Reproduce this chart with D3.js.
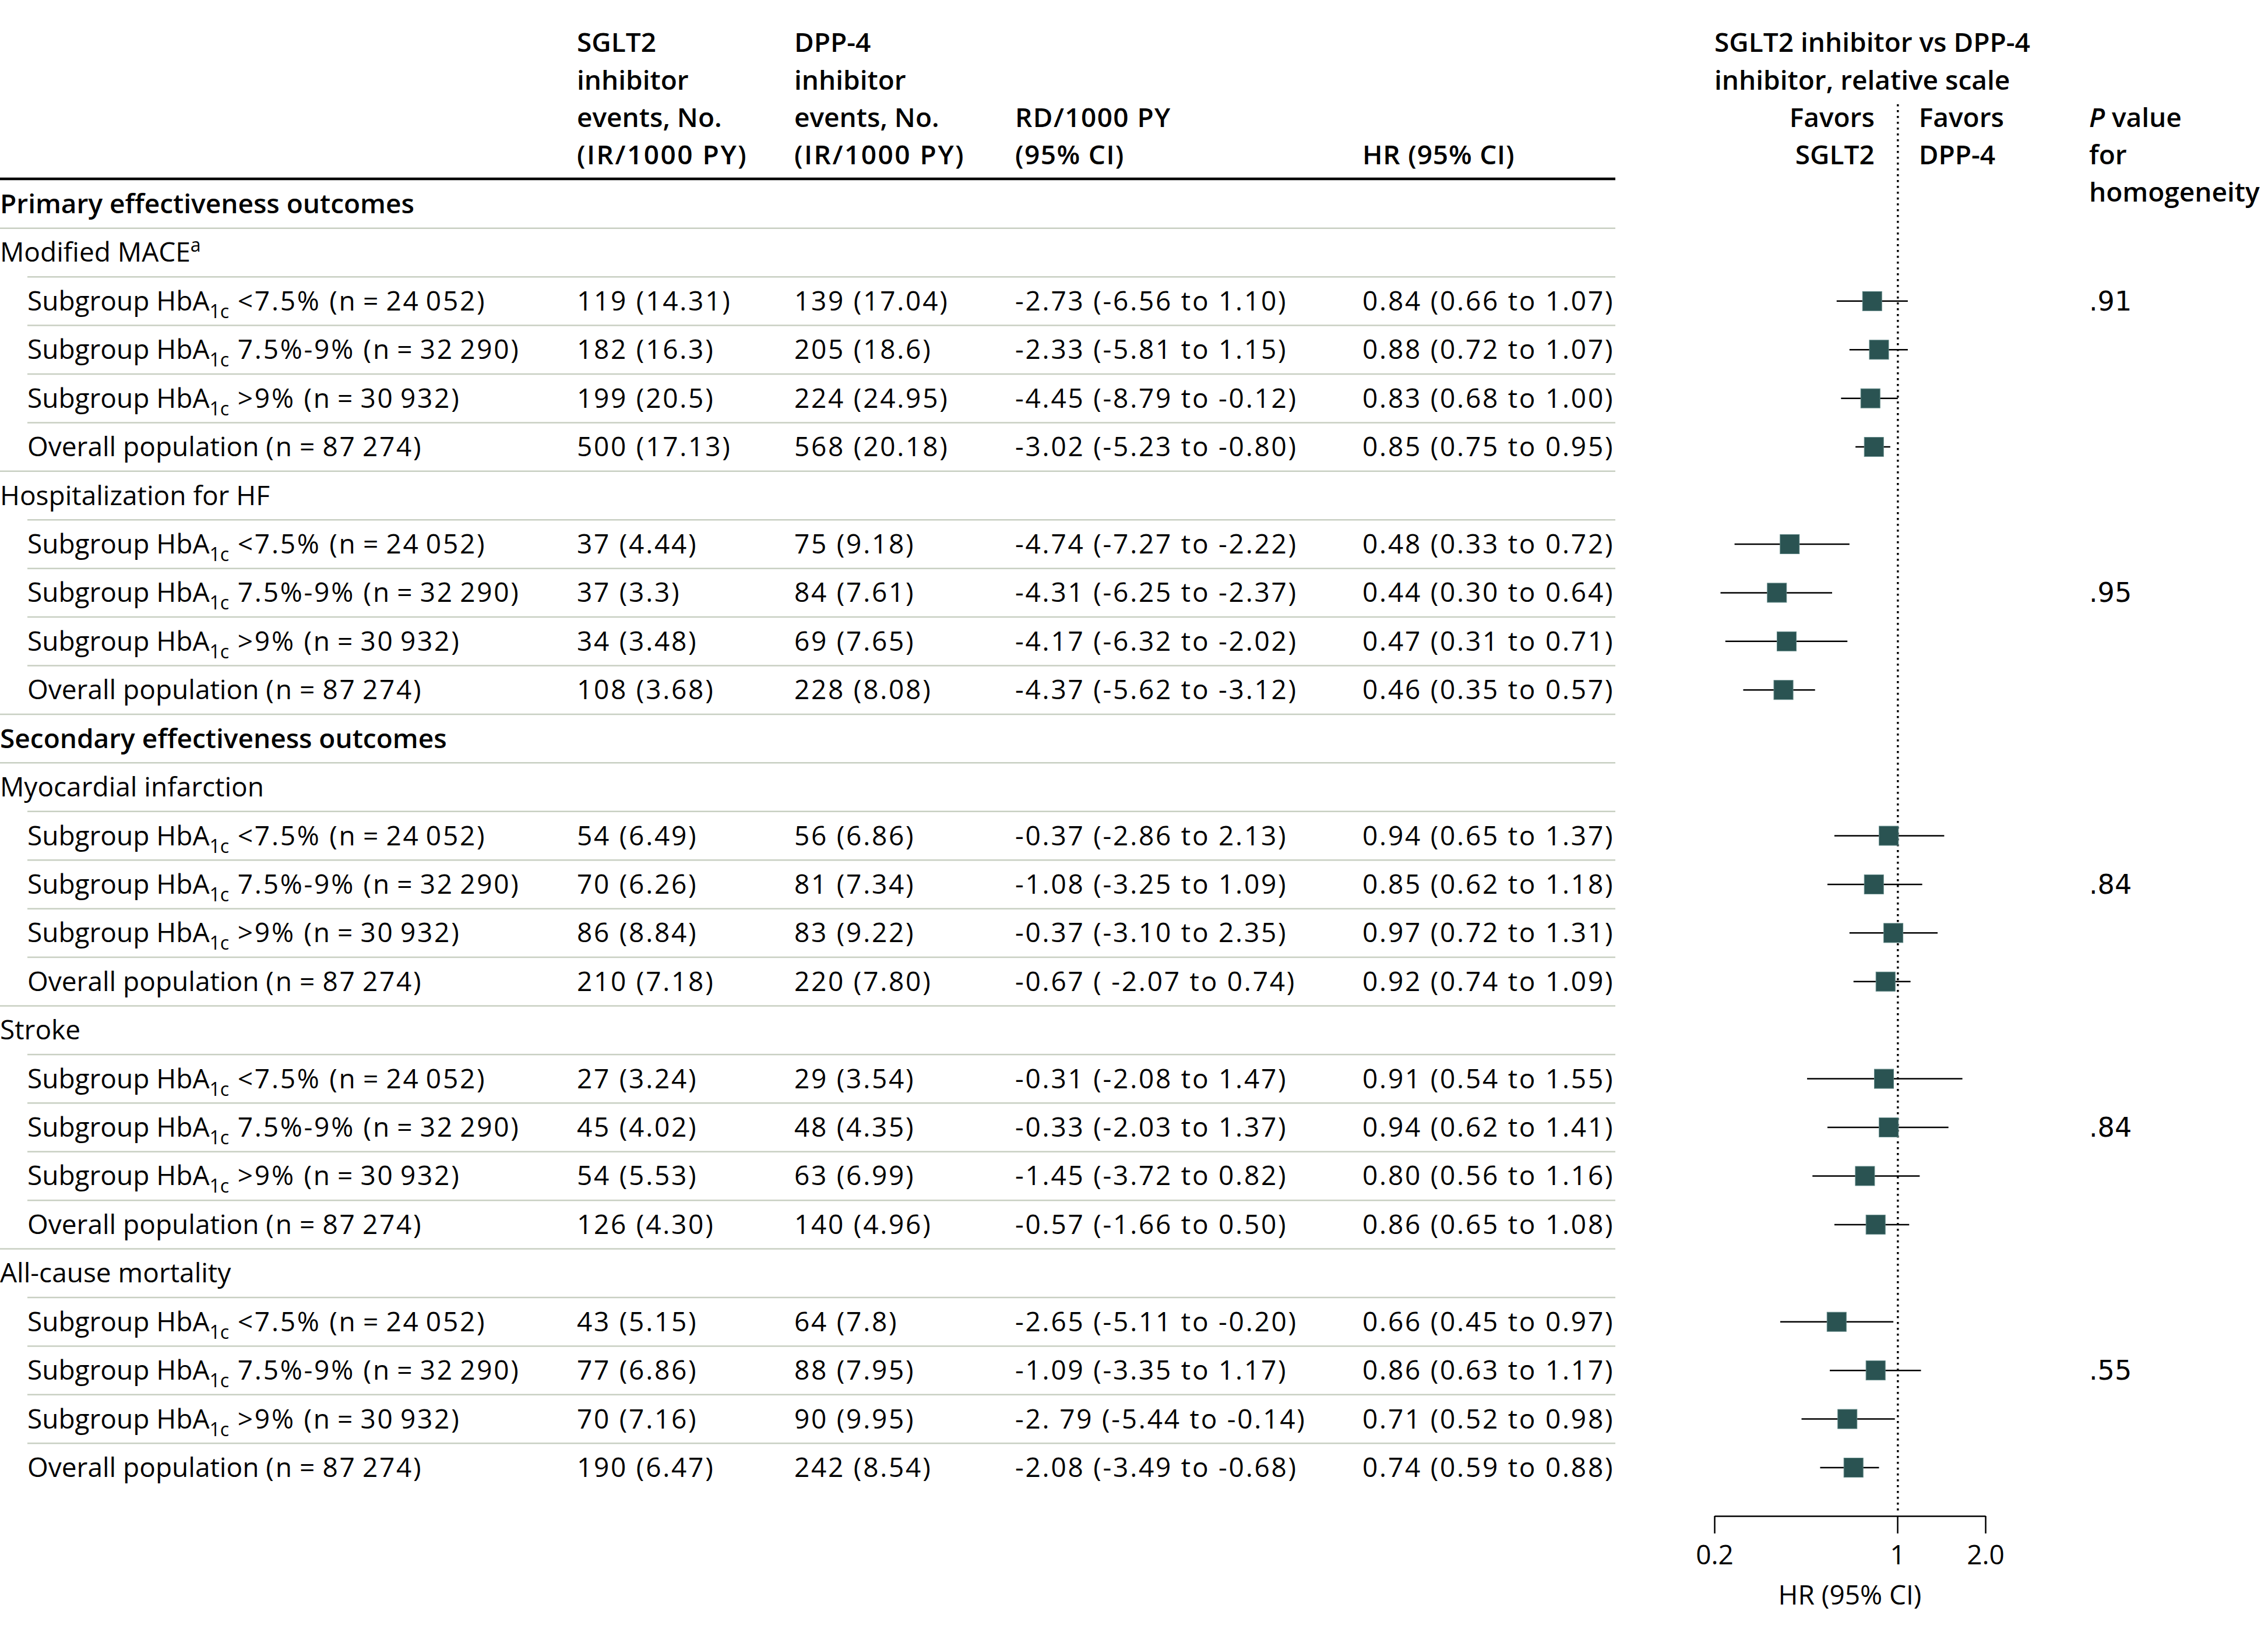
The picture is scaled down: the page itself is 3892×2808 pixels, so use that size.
<!DOCTYPE html>
<html><head><meta charset="utf-8">
<script src="https://cdn.jsdelivr.net/npm/d3@7"></script>
<style>
html,body{margin:0;padding:0;background:#fff;}
svg{display:block;}
</style></head><body>
<svg id="chart" width="3892" height="2808"></svg>
<script>
// ---------------- DATA ----------------
const sections = ["Primary effectiveness outcomes", "Secondary effectiveness outcomes"];
const groups = ["Modified MACE", "Hospitalization for HF", "Myocardial infarction", "Stroke", "All-cause mortality"];
const groupSection = [0, 0, 1, 1, 1];
const groupSup = ["a", "", "", "", ""];
const subgroupRange = ["<7.5%", "7.5%-9%", ">9%"];
const subgroupN = ["24\u2009052", "32\u2009290", "30\u2009932"];
const overallN = "87\u2009274";

const sgltEvents = ["119 (14.31)", "182 (16.3)", "199 (20.5)", "500 (17.13)",
  "37 (4.44)", "37 (3.3)", "34 (3.48)", "108 (3.68)",
  "54 (6.49)", "70 (6.26)", "86 (8.84)", "210 (7.18)",
  "27 (3.24)", "45 (4.02)", "54 (5.53)", "126 (4.30)",
  "43 (5.15)", "77 (6.86)", "70 (7.16)", "190 (6.47)"];
const dppEvents = ["139 (17.04)", "205 (18.6)", "224 (24.95)", "568 (20.18)",
  "75 (9.18)", "84 (7.61)", "69 (7.65)", "228 (8.08)",
  "56 (6.86)", "81 (7.34)", "83 (9.22)", "220 (7.80)",
  "29 (3.54)", "48 (4.35)", "63 (6.99)", "140 (4.96)",
  "64 (7.8)", "88 (7.95)", "90 (9.95)", "242 (8.54)"];
const rdText = ["-2.73 (-6.56 to 1.10)", "-2.33 (-5.81 to 1.15)", "-4.45 (-8.79 to -0.12)", "-3.02 (-5.23 to -0.80)",
  "-4.74 (-7.27 to -2.22)", "-4.31 (-6.25 to -2.37)", "-4.17 (-6.32 to -2.02)", "-4.37 (-5.62 to -3.12)",
  "-0.37 (-2.86 to 2.13)", "-1.08 (-3.25 to 1.09)", "-0.37 (-3.10 to 2.35)", "-0.67 ( -2.07 to 0.74)",
  "-0.31 (-2.08 to 1.47)", "-0.33 (-2.03 to 1.37)", "-1.45 (-3.72 to 0.82)", "-0.57 (-1.66 to 0.50)",
  "-2.65 (-5.11 to -0.20)", "-1.09 (-3.35 to 1.17)", "-2. 79 (-5.44 to -0.14)", "-2.08 (-3.49 to -0.68)"];
const hr     = [0.84, 0.88, 0.83, 0.85, 0.48, 0.44, 0.47, 0.46, 0.94, 0.85, 0.97, 0.92, 0.91, 0.94, 0.80, 0.86, 0.66, 0.86, 0.71, 0.74];
const hrLow  = [0.66, 0.72, 0.68, 0.75, 0.33, 0.30, 0.31, 0.35, 0.65, 0.62, 0.72, 0.74, 0.54, 0.62, 0.56, 0.65, 0.45, 0.63, 0.52, 0.59];
const hrHigh = [1.07, 1.07, 1.00, 0.95, 0.72, 0.64, 0.71, 0.57, 1.37, 1.18, 1.31, 1.09, 1.55, 1.41, 1.16, 1.08, 0.97, 1.17, 0.98, 0.88];
const pValues = [".91", ".95", ".84", ".84", ".55"];
const pValueRow = [0, 1, 1, 1, 1];
const axisTicks = [0.2, 1, 2];
const axisTickLabels = ["0.2", "1", "2.0"];

// ---------------- LAYOUT ----------------
const FONT = "'Open Sans', sans-serif";
const FS = 46;
const HW = 600;        // header / section weight
const NUM_LS = 2.75;   // extra tracking for numeric text
const svg = d3.select("#chart");

const rows = [];
groups.forEach((g, gi) => {
  if (gi === 0 || groupSection[gi] !== groupSection[gi - 1]) rows.push({type: "section", label: sections[groupSection[gi]]});
  rows.push({type: "group", label: g, sup: groupSup[gi], gi});
  for (let si = 0; si < 4; si++) rows.push({type: si < 3 ? "sub" : "overall", gi, si, idx: gi * 4 + si});
});

const rowY = d3.scaleLinear().domain([0, rows.length - 1]).range([350, 2519]);
const x = d3.scaleLog().domain([0.2, 2]).range([2850, 3432]);
const axisScale = d3.scaleLog().domain(axisTicks).range([2942, 3256, 3407]);
const col = {label: 0, indent: 47, sglt: 990, dpp: 1363, rd: 1742, hr: 2338, p: 3585, ruleEnd: 2772};
const base = 16;

function txt(g, xx, yy, s, opts = {}) {
  const t = g.append("text").attr("x", xx).attr("y", yy)
    .attr("font-family", opts.family || FONT).attr("font-size", opts.size || FS)
    .attr("font-weight", opts.weight || 400).attr("text-anchor", opts.anchor || "start")
    .attr("fill", "#000").text(s);
  if (opts.ls) t.attr("letter-spacing", opts.ls);
  return t;
}

// header
const hdr = svg.append("g");
const hy = [89, 154, 218, 282, 346];
["SGLT2", "inhibitor", "events, No.", "(IR/1000 PY)"].forEach((s, i) => txt(hdr, col.sglt, hy[i], s, {weight: HW, ls: i === 3 ? 2.5 : 0}));
["DPP-4", "inhibitor", "events, No.", "(IR/1000 PY)"].forEach((s, i) => txt(hdr, col.dpp, hy[i], s, {weight: HW, ls: i === 3 ? 2.5 : 0}));
["RD/1000 PY", "(95% CI)"].forEach((s, i) => txt(hdr, col.rd, hy[i + 2], s, {weight: HW, ls: 1.4}));
txt(hdr, col.hr, hy[3], "HR (95% CI)", {weight: HW, ls: 0.8});
["SGLT2 inhibitor vs DPP-4", "inhibitor, relative scale"].forEach((s, i) => txt(hdr, axisScale(0.2), hy[i], s, {weight: HW}));
["Favors", "SGLT2"].forEach((s, i) => txt(hdr, x(1) - 40, hy[i + 2], s, {weight: HW, anchor: "end"}));
["Favors", "DPP-4"].forEach((s, i) => txt(hdr, x(1) + 36, hy[i + 2], s, {weight: HW}));
const pv = txt(hdr, col.p, hy[2], "", {weight: HW});
pv.append("tspan").attr("font-style", "italic").text("P");
pv.append("tspan").text(" value");
txt(hdr, col.p, hy[3], "for", {weight: HW});
txt(hdr, col.p, hy[4], "homogeneity", {weight: HW});

svg.append("line").attr("x1", 0).attr("x2", col.ruleEnd).attr("y1", 307).attr("y2", 307)
  .attr("stroke", "#000").attr("stroke-width", 4.5);

// rules
const rules = svg.append("g");
rows.forEach((r, i) => {
  if (i === rows.length - 1) return;
  const full = r.type === "section" || r.type === "overall";
  rules.append("line").attr("x1", full ? col.label : col.indent).attr("x2", col.ruleEnd)
    .attr("y1", rowY(i + 0.5)).attr("y2", rowY(i + 0.5))
    .attr("stroke", "#c8cfc2").attr("stroke-width", 2.5);
});

// dotted null line
svg.append("line").attr("x1", x(1)).attr("x2", x(1)).attr("y1", 179).attr("y2", 2596)
  .attr("stroke", "#000").attr("stroke-width", 3.5).attr("stroke-dasharray", "3.5 6.5");

// rows
const body = svg.append("g");
rows.forEach((r, i) => {
  const yb = rowY(i) + base;
  if (r.type === "section") {
    txt(body, col.label, yb, r.label, {weight: HW});
  } else if (r.type === "group") {
    const t = txt(body, col.label, yb, r.label);
    if (r.sup) t.append("tspan").attr("font-size", 32).attr("dy", -17).text(r.sup);
  } else {
    let t;
    if (r.type === "sub") {
      t = txt(body, col.indent, yb, "Subgroup HbA");
      t.append("tspan").attr("font-size", 32).attr("dy", 13).text("1c");
      t.append("tspan").attr("dy", -13).attr("letter-spacing", NUM_LS)
        .text(" " + subgroupRange[r.si] + " (n\u2009=\u2009" + subgroupN[r.si] + ")");
    } else {
      t = txt(body, col.indent, yb, "Overall population ");
      t.append("tspan").attr("letter-spacing", NUM_LS).text("(n\u2009=\u2009" + overallN + ")");
    }
    txt(body, col.sglt, yb, sgltEvents[r.idx], {ls: NUM_LS});
    txt(body, col.dpp, yb, dppEvents[r.idx], {ls: NUM_LS});
    txt(body, col.rd, yb, rdText[r.idx], {ls: NUM_LS});
    txt(body, col.hr, yb, `${hr[r.idx].toFixed(2)} (${hrLow[r.idx].toFixed(2)} to ${hrHigh[r.idx].toFixed(2)})`, {ls: NUM_LS});
    // forest marks
    const cy = rowY(i);
    body.append("line").attr("x1", x(hrLow[r.idx])).attr("x2", x(hrHigh[r.idx]))
      .attr("y1", cy).attr("y2", cy).attr("stroke", "#000").attr("stroke-width", 2.5);
    body.append("rect").attr("x", x(hr[r.idx]) - 16.5).attr("y", cy - 16.5)
      .attr("width", 33).attr("height", 33).attr("fill", "#2a5352")
      .attr("stroke", "#5d8583").attr("stroke-width", 1);
    if (r.si === pValueRow[r.gi]) txt(body, col.p, yb, pValues[r.gi], {family: "'DejaVu Sans', sans-serif"});
  }
});

// axis
const ax = svg.append("g").attr("transform", "translate(0,2602)")
  .call(d3.axisBottom(axisScale).tickValues(axisTicks).tickFormat((d, i) => axisTickLabels[i])
    .tickSize(30).tickSizeOuter(0).tickPadding(20));
ax.select(".domain").attr("stroke", "#000").attr("stroke-width", 2.5);
ax.selectAll(".tick line").attr("stroke", "#000").attr("stroke-width", 2.5);
ax.selectAll(".tick text").attr("font-family", FONT).attr("font-size", FS).attr("fill", "#000");
txt(svg, (axisScale.range()[0] + axisScale.range()[2]) / 2, 2754, "HR (95% CI)", {anchor: "middle"});
</script>
</body></html>
